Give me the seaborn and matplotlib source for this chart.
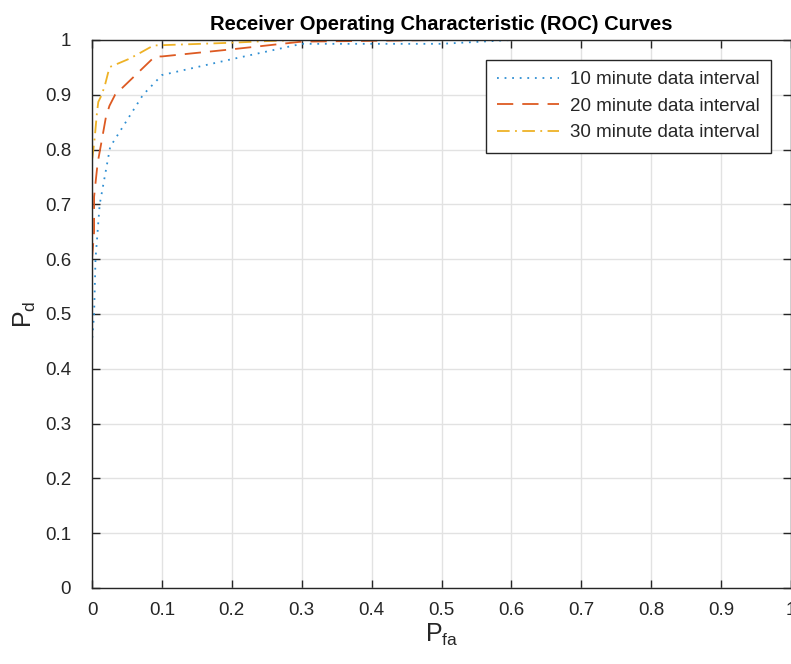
import numpy as np
import pandas as pd
import matplotlib
matplotlib.use("Agg")
import matplotlib.pyplot as plt
import seaborn as sns

# ROC curves (false-alarm probability vs. detection probability)
pfa_10 = [0.0, 0.0, 0.003, 0.005, 0.011, 0.026, 0.073, 0.10, 0.20, 0.30, 0.50, 0.60, 1.0]
pd_10 = [0.0, 0.45, 0.50, 0.60, 0.70, 0.805, 0.90, 0.936, 0.965, 0.993, 0.993, 1.0, 1.0]

pfa_20 = [0.0, 0.0, 0.003, 0.003, 0.008, 0.014, 0.020, 0.025, 0.033, 0.09, 0.10, 0.20, 0.30, 0.50, 1.0]
pd_20 = [0.0, 0.60, 0.65, 0.714, 0.775, 0.817, 0.860, 0.880, 0.900, 0.97, 0.97, 0.983, 0.997, 1.0, 1.0]

pfa_30 = [0.0, 0.0, 0.002, 0.004, 0.007, 0.009, 0.014, 0.019, 0.023, 0.026, 0.052, 0.064, 0.078, 0.088,
          0.20, 0.25, 0.30, 1.0]
pd_30 = [0.0, 0.78, 0.80, 0.823, 0.866, 0.887, 0.90, 0.92, 0.94, 0.951, 0.965, 0.973, 0.983, 0.99,
         0.995, 0.998, 1.0, 1.0]

series_names = ["10 minute data interval", "20 minute data interval", "30 minute data interval"]
tick_values = [0.0, 0.1, 0.2, 0.3, 0.4, 0.5, 0.6, 0.7, 0.8, 0.9, 1.0]
tick_labels = ["0", "0.1", "0.2", "0.3", "0.4", "0.5", "0.6", "0.7", "0.8", "0.9", "1"]

sns.set_style("white")
plt.rcParams["font.family"] = ["Liberation Sans", "DejaVu Sans"]
plt.rcParams["mathtext.fontset"] = "custom"
plt.rcParams["mathtext.rm"] = "Liberation Sans"
plt.rcParams["mathtext.it"] = "Liberation Sans"

frames = []
for name, x, y in zip(series_names, [pfa_10, pfa_20, pfa_30], [pd_10, pd_20, pd_30]):
    frames.append(pd.DataFrame({"Pfa": x, "Pd": y, "series": name, "order": np.arange(len(x))}))
data = pd.concat(frames, ignore_index=True)

colors = ["#2f8fd3", "#dd5a22", "#eeb226"]
styles = [(0, (1.0, 3.2)), (0, (9.0, 5.0)), (0, (7.0, 3.0, 1.0, 3.0))]

fig = plt.figure(figsize=(7.91, 6.64), dpi=100)
ax = fig.add_axes([92 / 791, 1 - 588 / 664, 699 / 791, 548 / 664])

for name, c, ls in zip(series_names, colors, styles):
    sub = data[data["series"] == name]
    sns.lineplot(data=sub, x="Pfa", y="Pd", ax=ax, sort=False, estimator=None,
                 color=c, linewidth=1.3, linestyle=ls, label=name)

ax.set_xlim(0, 1)
ax.set_ylim(0, 1)
ax.set_xticks(tick_values)
ax.set_yticks(tick_values)
ax.set_xticklabels(tick_labels)
ax.set_yticklabels(tick_labels)
ax.grid(True, color="#e2e2e2", linewidth=1.0)
ax.set_axisbelow(True)
for sp in ax.spines.values():
    sp.set_visible(True)
    sp.set_color("#262626")
    sp.set_linewidth(1.0)
ax.tick_params(axis="both", which="both", direction="in", length=6, width=1.0,
               color="#262626", labelcolor="#262626", labelsize=13.5,
               top=True, right=True, bottom=True, left=True)
ax.tick_params(axis="x", pad=10)
ax.tick_params(axis="y", pad=15)

ax.set_title("Receiver Operating Characteristic (ROC) Curves", fontsize=14.5,
             fontweight="bold", color="black", pad=7)
ax.set_xlabel(r"$\mathrm{P}_{\mathrm{fa}}$", fontsize=18, color="#262626", labelpad=2)
ax.set_ylabel(r"$\mathrm{P}_{\mathrm{d}}$", fontsize=18, color="#262626", labelpad=5)

leg = ax.legend(loc="upper right", bbox_to_anchor=((771 - 92) / 699, (588 - 60) / 548),
                frameon=True, fancybox=False, framealpha=1.0, edgecolor="#262626",
                fontsize=13.5, handlelength=3.3, handletextpad=0.6, labelspacing=0.5,
                borderpad=0.6, borderaxespad=0.0)
leg.get_frame().set_linewidth(1.0)
for t in leg.get_texts():
    t.set_color("#262626")

fig.savefig("out.png", dpi=100)
